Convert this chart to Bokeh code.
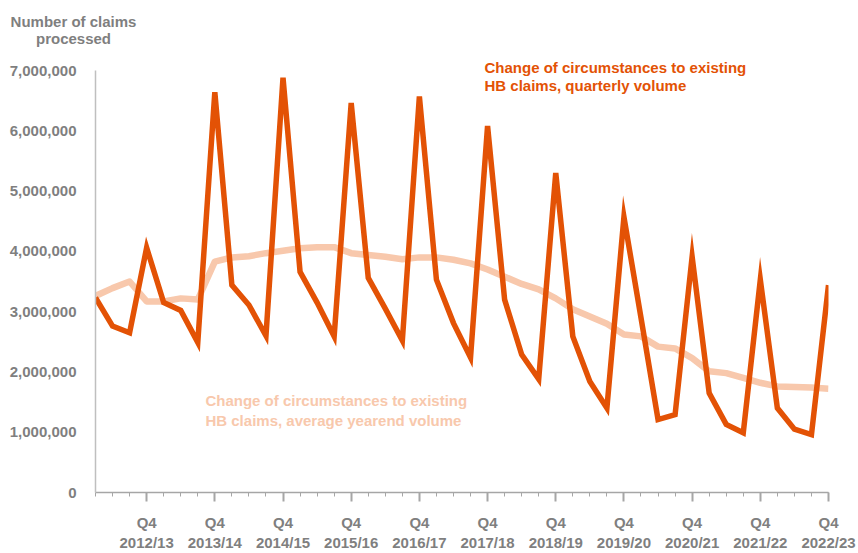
from bokeh.plotting import figure
from bokeh.models import FixedTicker, NumeralTickFormatter, Label, Range1d
from bokeh.embed import file_html
from bokeh.resources import INLINE

years = ["2012/13", "2013/14", "2014/15", "2015/16", "2016/17", "2017/18",
         "2018/19", "2019/20", "2020/21", "2021/22", "2022/23"]
quarters = [f"Q{q} {y}" for y in years for q in (1, 2, 3, 4)]

quarterly_volume = [
    3230000, 2760000, 2650000, 4060000,
    3150000, 3020000, 2490000, 6640000,
    3440000, 3110000, 2600000, 6880000,
    3660000, 3150000, 2590000, 6460000,
    3560000, 3050000, 2520000, 6570000,
    3530000, 2810000, 2240000, 6080000,
    3200000, 2290000, 1880000, 5300000,
    2590000, 1840000, 1400000, 4570000,
    2900000, 1210000, 1290000, 3910000,
    1650000, 1130000, 990000, 3530000,
    1400000, 1050000, 960000, 3440000,
]

average_volume = [
    3260000, 3390000, 3500000, 3170000,
    3170000, 3220000, 3200000, 3830000,
    3900000, 3920000, 3970000, 4010000,
    4050000, 4070000, 4070000, 3970000,
    3940000, 3910000, 3870000, 3900000,
    3900000, 3860000, 3800000, 3700000,
    3580000, 3460000, 3370000, 3220000,
    3040000, 2920000, 2800000, 2620000,
    2590000, 2420000, 2390000, 2230000,
    2010000, 1980000, 1900000, 1820000,
    1760000, 1750000, 1740000, 1720000,
]

y_ticks = [0, 1000000, 2000000, 3000000, 4000000, 5000000, 6000000, 7000000]

ORANGE = "#E35205"
PEACH = "#F8C8AC"
GREY = "#7F7F7F"
FONT = "Liberation Sans"

x = list(range(len(quarters)))
q4_idx = [i for i, q in enumerate(quarters) if q.startswith("Q4")]

p = figure(width=858, height=553, x_range=Range1d(0, len(quarters) - 1),
           y_range=Range1d(0, 7000000), output_backend="svg",
           toolbar_location=None, min_border_left=95, min_border_right=30,
           min_border_top=70, min_border_bottom=60)
p.outline_line_color = None
p.xgrid.visible = False
p.ygrid.visible = False
p.background_fill_color = "white"
p.border_fill_color = "white"

p.line(x, average_volume, line_color=PEACH, line_width=6.5, line_join="round")
p.line(x, quarterly_volume, line_color=ORANGE, line_width=5.5, line_join="miter")

# y axis
ya = p.yaxis[0]
ya.ticker = FixedTicker(ticks=y_ticks)
ya.formatter = NumeralTickFormatter(format="0,0")
ya.axis_line_color = "#BFBFBF"
ya.axis_line_width = 1.5
ya.major_tick_line_color = None
ya.minor_tick_line_color = None
ya.major_label_standoff = 13
ya.major_label_text_font = FONT
ya.major_label_text_font_style = "bold"
ya.major_label_text_font_size = "15px"
ya.major_label_text_color = GREY

# x axis
xa = p.xaxis[0]
xa.ticker = FixedTicker(ticks=q4_idx, minor_ticks=x)
xa.major_label_overrides = {i: "Q4\n" + quarters[i].split(" ")[1] for i in q4_idx}
xa.axis_line_color = "#A6A6A6"
xa.axis_line_width = 1.5
xa.major_tick_line_color = "#A6A6A6"
xa.major_tick_line_width = 2
xa.major_tick_in = 0
xa.major_tick_out = 9
xa.minor_tick_line_color = "#A6A6A6"
xa.minor_tick_line_width = 1
xa.minor_tick_in = 0
xa.minor_tick_out = 4
xa.major_label_standoff = 12
xa.major_label_text_font = FONT
xa.major_label_text_font_style = "bold"
xa.major_label_text_font_size = "15px"
xa.major_label_text_color = GREY
xa.major_label_text_line_height = 1.2

def make_label(xv, yv, text, color, align="left"):
    return Label(x=xv, y=yv, text=text, text_color=color, text_font=FONT,
                 text_font_style="bold", text_font_size="15px",
                 text_align=align, text_baseline="middle")

# labels that reach outside the plot frame go in a side panel (not clipped)
p.add_layout(make_label(-1.29, 7811000, "Number of claims", GREY, "center"), "above")
p.add_layout(make_label(-1.29, 7530000, "processed", GREY, "center"), "above")
p.add_layout(make_label(22.82, 7054000, "Change of circumstances to existing", ORANGE), "above")
p.add_layout(make_label(22.82, 6743000, "HB claims, quarterly volume", ORANGE))
p.add_layout(make_label(6.45, 1522000, "Change of circumstances to existing", PEACH))
p.add_layout(make_label(6.45, 1191000, "HB claims, average yearend volume", PEACH))

open("out.html", "w").write(file_html(p, INLINE))
